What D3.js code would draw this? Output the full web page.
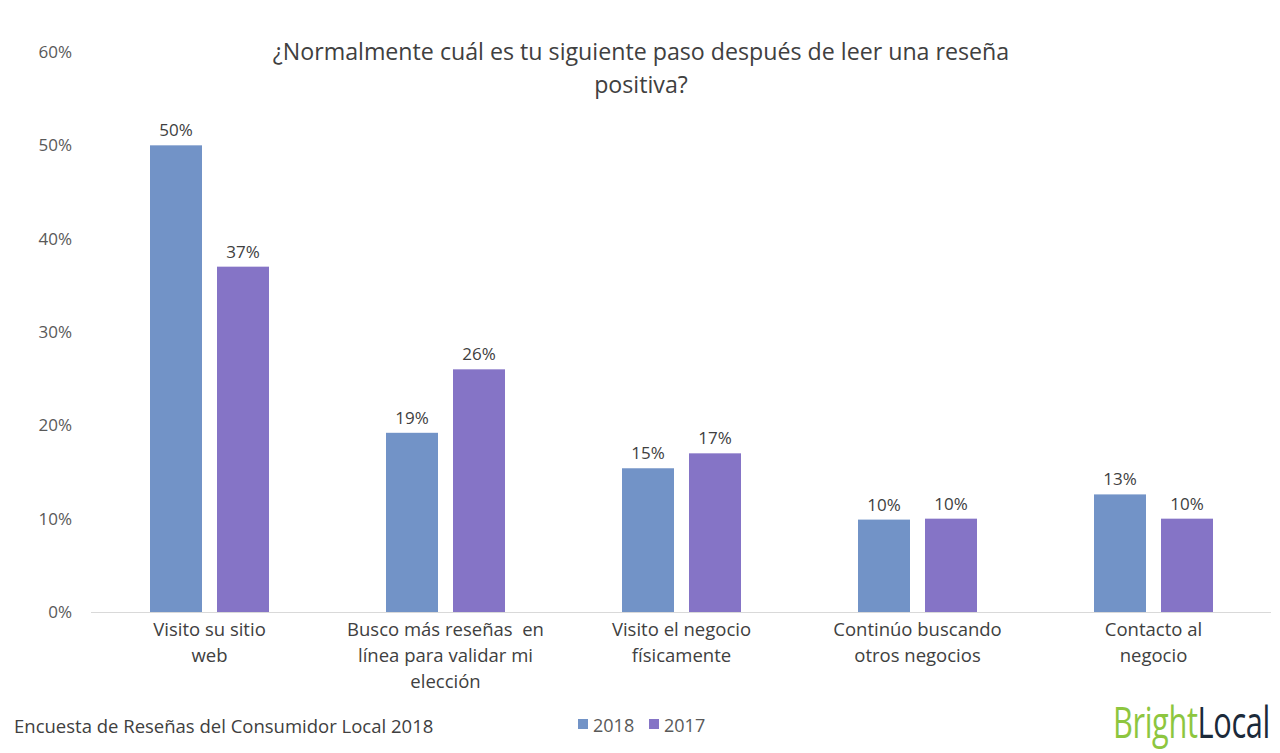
<!DOCTYPE html>
<html><head><meta charset="utf-8">
<script src="https://cdn.jsdelivr.net/npm/d3@7/dist/d3.min.js"></script>
<style>body{margin:0;background:#fff;} svg{display:block;font-family:"Open Sans",sans-serif;}</style>
</head><body><svg id="c" width="1280" height="753"></svg>
<script>
const categories = [["Visito su sitio","web"],["Busco más reseñas  en","línea para validar mi","elección"],["Visito el negocio","físicamente"],["Continúo buscando","otros negocios"],["Contacto al","negocio"]];
const series = ["2018","2017"];
const values2018 = [50, 19.2, 15.4, 9.9, 12.6];
const values2017 = [37, 26, 17, 10, 10];
const labels2018 = ["50%","19%","15%","10%","13%"];
const labels2017 = ["37%","26%","17%","10%","10%"];
const yTicks = [0,10,20,30,40,50,60];
const colors = ["#7293c7","#8574c6"];

const svg = d3.select("#c");
const x0 = d3.scaleBand().domain(d3.range(categories.length)).range([91.5,1271.5]);
const y = d3.scaleLinear().domain([0,60]).range([612,52]);
const barW = 52, gap = 15;
const xs = d3.scaleOrdinal().domain(series).range([-barW-gap/2, gap/2]);

svg.append("line").attr("x1",91).attr("x2",1271).attr("y1",y(0)+0.5).attr("y2",y(0)+0.5).attr("stroke","#d9d9d9").attr("stroke-width",1);

svg.append("g").selectAll("text").data(yTicks).join("text")
  .attr("x",72).attr("y",d=>y(d)).attr("dy","0.35em").attr("text-anchor","end")
  .attr("fill","#595959").attr("font-size",17).text(d=>d+"%");

const data = series.map((s,si)=>({s, vals: si===0?values2018:values2017, labs: si===0?labels2018:labels2017, color: colors[si]}));
data.forEach(d=>{
  const g = svg.append("g");
  g.selectAll("rect").data(d.vals).join("rect")
    .attr("x",(v,i)=>x0(i)+x0.bandwidth()/2+xs(d.s))
    .attr("y",v=>y(v)).attr("width",barW).attr("height",v=>y(0)-y(v))
    .attr("fill",d.color);
  g.selectAll("text").data(d.vals).join("text")
    .attr("x",(v,i)=>x0(i)+x0.bandwidth()/2+xs(d.s)+barW/2)
    .attr("y",v=>y(v)-9).attr("text-anchor","middle")
    .attr("fill","#404040").attr("font-size",17).text((v,i)=>d.labs[i]);
});

const cg = svg.append("g");
categories.forEach((lines,i)=>{
  const t = cg.append("text").attr("x",x0(i)+x0.bandwidth()/2).attr("y",636)
    .attr("text-anchor","middle").attr("fill","#404040").attr("font-size",18.5);
  lines.forEach((l,j)=>t.append("tspan").attr("x",x0(i)+x0.bandwidth()/2).attr("dy",j?26:0).attr("xml:space","preserve").text(l));
});

const title = svg.append("text").attr("text-anchor","middle").attr("fill","#404040").attr("font-size",23.2);
title.append("tspan").attr("x",641).attr("y",60).text("¿Normalmente cuál es tu siguiente paso después de leer una reseña");
title.append("tspan").attr("x",641).attr("y",93).text("positiva?");

svg.append("text").attr("x",14).attr("y",733).attr("fill","#404040").attr("font-size",18.5)
  .text("Encuesta de Reseñas del Consumidor Local 2018");

const lg = svg.append("g");
[{s:"2018",x:578},{s:"2017",x:649}].forEach((d,i)=>{
  lg.append("rect").attr("x",d.x).attr("y",719).attr("width",10).attr("height",10).attr("fill",colors[i]);
  lg.append("text").attr("x",d.x+15).attr("y",732).attr("fill","#595959").attr("font-size",18).text(d.s);
});

// logo: single text, horizontally condensed via transform
const logoG = svg.append("g").attr("transform","translate(1113,738)");
const logo = logoG.append("text").attr("x",0).attr("y",0).attr("font-size",44).attr("letter-spacing",-0.5);
logo.append("tspan").attr("fill","#8dc63f").text("Bright");
logo.append("tspan").attr("fill","#1b2a3a").text("Local");
const w = logo.node().getComputedTextLength();
logoG.attr("transform",`translate(1113,738) scale(${157/w},1)`);
</script></body></html>
